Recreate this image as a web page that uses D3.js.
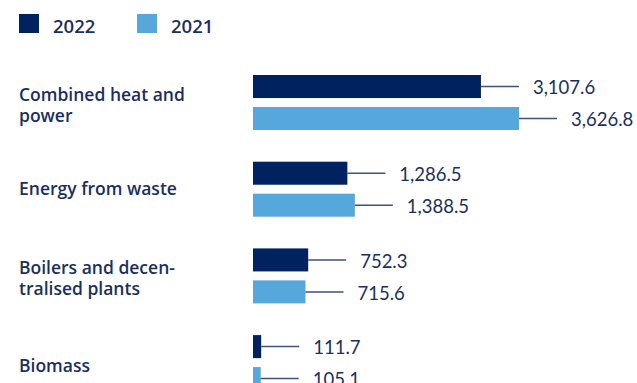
<!DOCTYPE html>
<html>
<head>
<meta charset="utf-8">
<script src="https://cdn.jsdelivr.net/npm/d3@7"></script>
<style>
  body { margin: 0; background: #fff; }
  text { font-family: Lato, "Open Sans", sans-serif; fill: #1b2f5e; }
</style>
</head>
<body>
<div id="chart"></div>
<script>
// data
const categories = ["Combined heat and power", "Energy from waste", "Boilers and decen-tralised plants", "Biomass"]
const categoryLines = [["Combined heat and", "power"], ["Energy from waste"], ["Boilers and decen-", "tralised plants"], ["Biomass"]]
const seriesNames = ["2022", "2021"]
const values2022 = [3107.6, 1286.5, 752.3, 111.7]
const values2021 = [3626.8, 1388.5, 715.6, 105.1]

const colors = {"2022": "#00235f", "2021": "#56a7dc"}
const width = 637, height = 383

const svg = d3.select('#chart')
    .append('svg')
    .attr("width", width)
    .attr("height", height)

// scales
const x = d3.scaleLinear()
    .domain([0, 4000])
    .range([253, 546.4])

const y = d3.scaleBand()
    .domain(categories)
    .range([75, 75 + 4 * 86.7])
    .paddingInner(0)

const ySeries = d3.scaleBand()
    .domain(seriesNames)
    .range([0, 55])
    .paddingInner(0.28)

const rows = []
categories.forEach((c, i) => {
    rows.push({cat: c, series: "2022", value: values2022[i]})
    rows.push({cat: c, series: "2021", value: values2021[i]})
})

// legend
const legend = svg.append("g")
    .selectAll("g")
    .data(seriesNames)
    .join("g")
    .attr("transform", (d, i) => "translate(" + (19 + i * 118) + ",14)")

legend.append("rect")
    .attr("width", 20)
    .attr("height", 19)
    .attr("fill", d => colors[d])

legend.append("text")
    .attr("x", 34)
    .attr("y", 12)
    .attr("dy", "0.36em")
    .style("font-family", "'Open Sans', sans-serif")
    .style("font-size", "18.5px")
    .style("font-weight", 600)
    .text(d => d)

// category labels
const offsets = [3, 0, 3, 4]
svg.append("g")
    .selectAll("text")
    .data(categories)
    .join("text")
    .attr("x", 19)
    .attr("y", (d, i) => y(d) + 27 + offsets[i] - (categoryLines[i].length - 1) * 10.5)
    .style("font-family", "'Open Sans', sans-serif")
    .style("font-size", "17.5px")
    .style("font-weight", 600)
    .each(function(d, i) {
        addLines(d3.select(this), categoryLines[i])
    })

function addLines(t, lines) {
    lines.forEach((l, j) => {
        t.append("tspan")
            .attr("x", 19)
            .attr("dy", j === 0 ? "0.36em" : "21px")
            .text(l)
    })
}

// bars
const bars = svg.append("g")
    .selectAll("g")
    .data(rows)
    .join("g")
    .attr("transform", d => "translate(0," + (y(d.cat) + ySeries(d.series)) + ")")

bars.append("rect")
    .attr("x", x(0))
    .attr("width", d => x(d.value) - x(0))
    .attr("height", ySeries.bandwidth())
    .attr("fill", d => colors[d.series])

// leader lines
bars.append("line")
    .attr("x1", d => x(d.value))
    .attr("x2", d => x(d.value) + 38)
    .attr("y1", ySeries.bandwidth() / 2)
    .attr("y2", ySeries.bandwidth() / 2)
    .attr("stroke", "#3b5283")
    .attr("stroke-width", 1.5)

bars.append("text")
    .attr("x", d => x(d.value) + 52)
    .attr("y", ySeries.bandwidth() / 2 + 1)
    .attr("dy", "0.36em")
    .style("font-size", "18.5px")
    .text(d => d3.format(",.1f")(d.value))
</script>
</body>
</html>
